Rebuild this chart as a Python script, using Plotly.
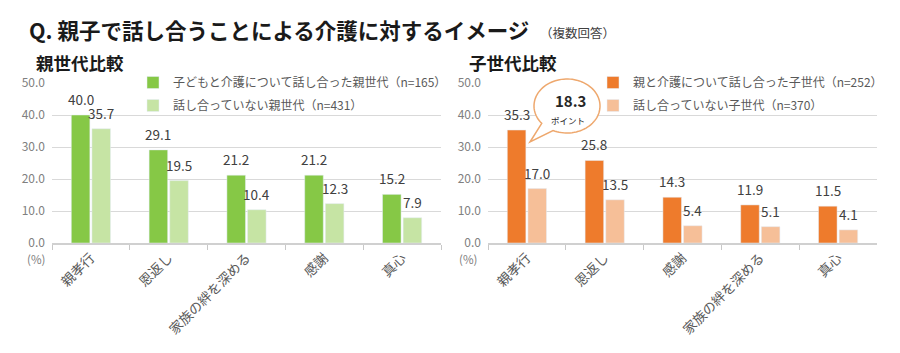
import plotly.graph_objects as go
import numpy as np

W, H = 900, 353
FONT = "Noto Sans CJK JP"

# ---------------- data ----------------
parent_cats = ["親孝行", "恩返し", "家族の絆を深める", "感謝", "真心"]
parent_talked = [40.0, 29.1, 21.2, 21.2, 15.2]
parent_not = [35.7, 19.5, 10.4, 12.3, 7.9]
parent_names = ["子どもと介護について話し合った親世代（n=165）", "話し合っていない親世代（n=431）"]

child_cats = ["親孝行", "恩返し", "感謝", "家族の絆を深める", "真心"]
child_talked = [35.3, 25.8, 14.3, 11.9, 11.5]
child_not = [17.0, 13.5, 5.4, 5.1, 4.1]
child_names = ["親と介護について話し合った子世代（n=252）", "話し合っていない子世代（n=370）"]

y_ticks = [0, 10, 20, 30, 40, 50]
title_text = "Q. 親子で話し合うことによる介護に対するイメージ"
title_note = "（複数回答）"
sub_left = "親世代比較"
sub_right = "子世代比較"
callout_value = "18.3"
callout_unit = "ポイント"

GREEN, LGREEN = "#86c846", "#c6e4a4"
ORANGE, LORANGE = "#ee7b2c", "#f6bf98"


def px(x):
    return x / W


def py(y):
    return 1 - y / H


BARGAP, GROUPGAP = 0.47, 0.1
L_DOM = (52, 441)
R_DOM = (488, 877)
TOP, BOT = 83, 243

fig = go.Figure()
fig.add_trace(go.Bar(x=parent_cats, y=parent_talked, name=parent_names[0], marker_color=GREEN,
                     xaxis="x", yaxis="y", legend="legend", legendgroup="p1"))
fig.add_trace(go.Bar(x=parent_cats, y=parent_not, name=parent_names[1], marker_color=LGREEN,
                     xaxis="x", yaxis="y", legend="legend", legendgroup="p2"))
fig.add_trace(go.Bar(x=child_cats, y=child_talked, name=child_names[0], marker_color=ORANGE,
                     xaxis="x2", yaxis="y2", legend="legend2", legendgroup="c1"))
fig.add_trace(go.Bar(x=child_cats, y=child_not, name=child_names[1], marker_color=LORANGE,
                     xaxis="x2", yaxis="y2", legend="legend2", legendgroup="c2"))

annotations = []


def note(x, y, text, size, color, xanchor="center", bold=False):
    annotations.append(dict(x=px(x), y=py(y), xref="paper", yref="paper", xanchor=xanchor, yanchor="middle",
                            text=f"<b>{text}</b>" if bold else text, showarrow=False,
                            font=dict(family=FONT, size=size, color=color)))


# value labels
cw = (L_DOM[1] - L_DOM[0]) / 5
slot = cw * (1 - BARGAP) / 2
off = slot / 2
for xr, yr, cats, a, b in [("x", "y", parent_cats, parent_talked, parent_not),
                           ("x2", "y2", child_cats, child_talked, child_not)]:
    for c, v1, v2 in zip(cats, a, b):
        for v, s in [(v1, -off), (v2, off)]:
            annotations.append(dict(x=c, y=v, xref=xr, yref=yr, text=f"{v:.1f}", showarrow=False,
                                    xanchor="center", yanchor="middle",
                                    xshift=s, yshift=16, font=dict(family=FONT, size=13.5, color="#404040")))

note(27, 29, title_text, 21.5, "#1a1a1a", "left", True)
note(538, 32, title_note, 12.5, "#404040", "left")
note(34, 63, sub_left, 17.5, "#1a1a1a", "left", True)
note(467, 63, sub_right, 17.5, "#1a1a1a", "left", True)
for xc in (36, 468):
    note(xc, 259, "(%)", 11.5, "#808080")

# callout
cx, cy, rx, ry = 567, 106, 33, 27
th = np.radians(np.linspace(140, 115 + 360, 90))
pts = [(cx + rx * np.cos(t), cy + ry * np.sin(t)) for t in th]
pts.append((530, 142))
path = "M " + " L ".join(f"{px(x):.5f},{py(y):.5f}" for x, y in pts) + " Z"
shapes = [dict(type="path", path=path, xref="paper", yref="paper", fillcolor="white",
               line=dict(color="#eea86e", width=1.5), layer="above")]
note(570, 100, callout_value, 15, "#262626", bold=True)
note(568, 120, callout_unit, 8.5, "#262626")

xaxis_common = dict(type="category", showline=True, linecolor="#d0d0d0", linewidth=1.5,
                    ticks="outside", tickson="boundaries", ticklen=5, tickcolor="#c8c8c8",
                    tickangle=-45, tickfont=dict(family=FONT, size=13.5, color="#595959"),
                    showgrid=False, fixedrange=True, automargin=False)
yaxis_common = dict(range=[0, 50], tickvals=y_ticks, tickformat=".1f", showgrid=True, gridcolor="#d9d9d9",
                    gridwidth=1, zeroline=False, showline=False, ticks="", ticklabelstandoff=6,
                    automargin=False,
                    tickfont=dict(family=FONT, size=12, color="#808080"), domain=[py(BOT), py(TOP)])

legend_common = dict(font=dict(family=FONT, size=12, color="#595959"), bgcolor="rgba(0,0,0,0)",
                     xanchor="left", yanchor="top", tracegroupgap=4, traceorder="grouped",
                     itemwidth=30, xref="paper", yref="paper")

fig.update_layout(
    width=W, height=H, margin=dict(l=0, r=0, t=0, b=0, pad=0), autosize=False,
    paper_bgcolor="white", plot_bgcolor="white",
    barmode="group", bargap=BARGAP, bargroupgap=GROUPGAP,
    xaxis=dict(domain=[px(L_DOM[0]), px(L_DOM[1])], anchor="y", **xaxis_common),
    xaxis2=dict(domain=[px(R_DOM[0]), px(R_DOM[1])], anchor="y2", **xaxis_common),
    yaxis=dict(anchor="x", **yaxis_common),
    yaxis2=dict(anchor="x2", **yaxis_common),
    legend=dict(x=px(133), y=py(68), **legend_common),
    legend2=dict(x=px(593), y=py(68), **legend_common),
    annotations=annotations, shapes=shapes,
    showlegend=True,
)

fig.write_html("out.html")
